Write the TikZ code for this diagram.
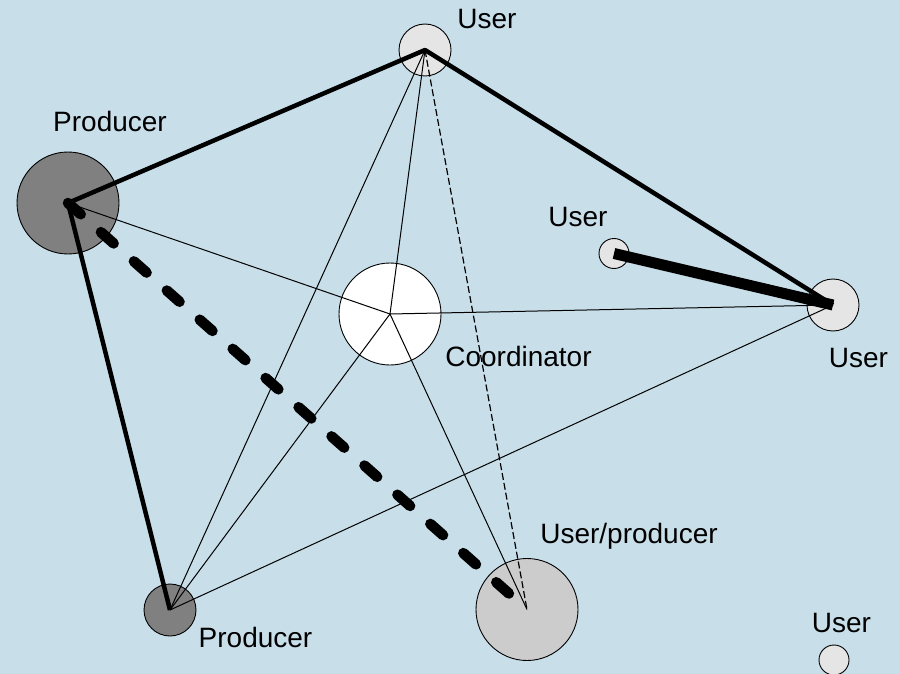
\documentclass[tikz,border=0pt]{standalone}
\usepackage{fontspec}
\setmainfont{Liberation Sans}
\begin{document}
\begin{tikzpicture}[x=1pt,y=-1pt,
  site/.style={circle,draw=black,line width=0.9pt,inner sep=0pt},
  producer/.style={site,fill=black!50},
  user/.style={site,fill=black!10},
  userproducer/.style={site,fill=black!20},
  coordinator/.style={site,fill=white},
  big/.style={minimum size=102pt},
  mid/.style={minimum size=52pt},
  small/.style={minimum size=30pt},
  lbl/.style={anchor=base,inner sep=0pt,font=\fontsize{28}{32}\selectfont},
  thinlink/.style={line width=1pt},
  thicklink/.style={line width=4.5pt,line join=round},
  heavylink/.style={line width=11pt},
  plannedlink/.style={line width=10.5pt,line cap=round,dash pattern=on 17pt off 27pt},
  faintlink/.style={line width=1.2pt,dash pattern=on 7pt off 3pt}]
  % background
  \fill[fill={rgb,255:red,200;green,223;blue,234}] (0,0) rectangle (900,674);
  \useasboundingbox (0,0) rectangle (900,674);

  % sites
  \node[producer,big]        (pA) at (68,203) {};
  \node[user,mid]            (uT) at (425,50) {};
  \node[coordinator,big]     (co) at (390,314) {};
  \node[user,small]          (uS) at (614,253.5) {};
  \node[user,mid]            (uR) at (833,305) {};
  \node[producer,mid]        (pB) at (170,610) {};
  \node[userproducer,big]    (up) at (527,609.5) {};
  \node[user,small]          (uC) at (834,660) {};

  % labels
  \node[lbl] (lT)  at (487,29)   {User};
  \node[lbl] (lA)  at (110,132)  {Producer};
  \node[lbl] (lS)  at (578,226)  {User};
  \node[lbl] (lco) at (518.5,366) {Coordinator};
  \node[lbl] (lR)  at (858.5,367) {User};
  \node[lbl] (lup) at (629,543)  {User/producer};
  \node[lbl] (lB)  at (255.5,647) {Producer};
  \node[lbl] (lC)  at (841.5,632) {User};

  % coordinator spokes and other thin links
  \draw[thinlink] (co.center) -- (pA.center);
  \draw[thinlink] (co.center) -- (uT.center);
  \draw[thinlink] (co.center) -- (uR.center);
  \draw[thinlink] (co.center) -- (pB.center);
  \draw[thinlink] (co.center) -- (up.center);
  \draw[thinlink] (pB.center) -- (uT.center);
  \draw[thinlink] (pB.center) -- (uR.center);
  \draw[faintlink] (uT.center) -- (up.center);

  % strong links
  \draw[thicklink] (pB.center) -- (pA.center) -- (uT.center) -- (uR.center);
  \draw[heavylink] (uS.center) -- (uR.center);
  \draw[plannedlink] (pA.center) -- (up.center);
\end{tikzpicture}
\end{document}
